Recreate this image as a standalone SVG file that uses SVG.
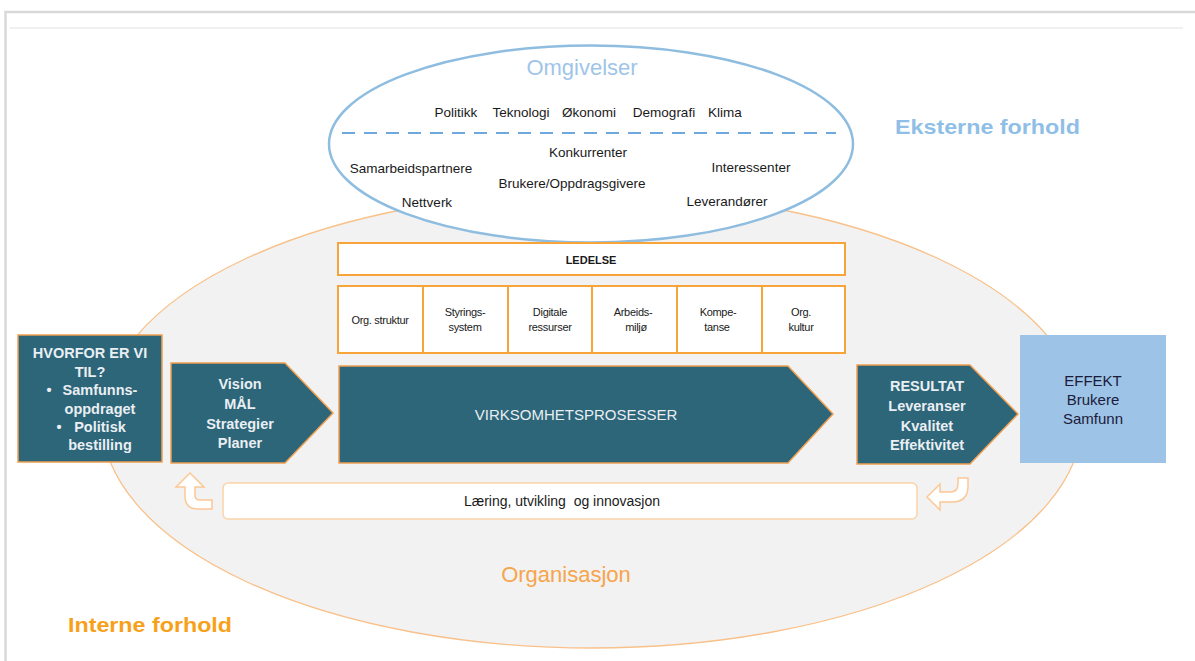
<svg xmlns="http://www.w3.org/2000/svg" width="1195" height="661" viewBox="0 0 1195 661">
<style>
text{font-family:"Liberation Sans",Arial,sans-serif}
.dk{fill:#1a1a1a;font-size:13.5px;text-anchor:middle}
.cell{fill:#fff;stroke:#f7a43a;stroke-width:2}
.ct{fill:#1a1a1a;font-size:11px;text-anchor:middle;letter-spacing:-0.3px}
.teal{fill:#2d6579;stroke:#f0a050;stroke-width:1.5}
.wt{fill:#e9eff2;font-size:14.5px;font-weight:bold;text-anchor:middle}
.loop{fill:#fff;stroke:#fbc896;stroke-width:1.5}
</style>
<rect x="0" y="0" width="1195" height="661" fill="#fff"/>
<rect x="5.5" y="12" width="1200" height="700" fill="none" stroke="#d9d9d9" stroke-width="2.5"/>
<line x1="10" y1="28" x2="1183" y2="28" stroke="#f0f0f0" stroke-width="2"/>

<g id="organisasjon">
<ellipse cx="592" cy="420" rx="490" ry="228" fill="#f2f2f2" stroke="#f9c18a" stroke-width="1.3"/>
<text x="566" y="582" font-size="22" fill="#f6a54c" text-anchor="middle">Organisasjon</text>
</g>

<g id="interne-forhold">
<text x="68" y="632" font-size="21" font-weight="bold" fill="#f7a11a" textLength="164" lengthAdjust="spacingAndGlyphs">Interne forhold</text>
</g>

<g id="eksterne-forhold">
<text x="895" y="134" font-size="21" font-weight="bold" fill="#8fbfe6" textLength="185" lengthAdjust="spacingAndGlyphs">Eksterne forhold</text>
</g>

<g id="omgivelser">
<ellipse cx="591" cy="144" rx="262" ry="98.5" fill="#fff" stroke="#8fbde0" stroke-width="2.5"/>
<text x="582" y="75" font-size="22" fill="#9fc5e8" text-anchor="middle">Omgivelser</text>
<text class="dk" x="456" y="117">Politikk</text>
<text class="dk" x="521" y="117">Teknologi</text>
<text class="dk" x="589" y="117">Økonomi</text>
<text class="dk" x="664" y="117">Demografi</text>
<text class="dk" x="725" y="117">Klima</text>
<line x1="342" y1="133" x2="836" y2="133" stroke="#6fa8dc" stroke-width="2" stroke-dasharray="13 9"/>
<text class="dk" x="588" y="157">Konkurrenter</text>
<text class="dk" x="411" y="173">Samarbeidspartnere</text>
<text class="dk" x="751" y="172">Interessenter</text>
<text class="dk" x="572" y="188">Brukere/Oppdragsgivere</text>
<text class="dk" x="427" y="207">Nettverk</text>
<text class="dk" x="727" y="206">Leverandører</text>
</g>

<g id="ledelse">
<rect class="cell" x="338" y="243" width="507" height="32"/>
<text x="591" y="264" font-size="11" font-weight="bold" fill="#1a1a1a" text-anchor="middle">LEDELSE</text>
</g>

<g id="org-struktur">
<rect class="cell" x="338" y="286" width="85" height="67"/>
<text class="ct" x="380" y="324">Org. struktur</text>
</g>
<g id="styringssystem">
<rect class="cell" x="423" y="286" width="85" height="67"/>
<text class="ct" x="465" y="316">Styrings-</text>
<text class="ct" x="465" y="331">system</text>
</g>
<g id="digitale-ressurser">
<rect class="cell" x="508" y="286" width="84" height="67"/>
<text class="ct" x="550" y="316">Digitale</text>
<text class="ct" x="550" y="331">ressurser</text>
</g>
<g id="arbeidsmiljo">
<rect class="cell" x="592" y="286" width="85" height="67"/>
<text class="ct" x="633" y="316">Arbeids-</text>
<text class="ct" x="636" y="331">miljø</text>
</g>
<g id="kompetanse">
<rect class="cell" x="677" y="286" width="85" height="67"/>
<text class="ct" x="718" y="316">Kompe-</text>
<text class="ct" x="717" y="331">tanse</text>
</g>
<g id="org-kultur">
<rect class="cell" x="762" y="286" width="83" height="67"/>
<text class="ct" x="801" y="316">Org.</text>
<text class="ct" x="801" y="331">kultur</text>
</g>

<g id="hvorfor">
<rect class="teal" x="18" y="335" width="144" height="127"/>
<text class="wt" x="90" y="358" font-size="14">HVORFOR ER VI</text>
<text class="wt" x="90" y="377">TIL?</text>
<text class="wt" x="49" y="395">•</text>
<text class="wt" x="100" y="395">Samfunns-</text>
<text class="wt" x="100" y="414">oppdraget</text>
<text class="wt" x="59" y="432">•</text>
<text class="wt" x="100" y="432">Politisk</text>
<text class="wt" x="100" y="450">bestilling</text>
</g>

<g id="vision">
<polygon class="teal" points="171,363 285,363 333,413 285,463 171,463"/>
<text class="wt" x="240" y="389">Vision</text>
<text class="wt" x="240" y="409">MÅL</text>
<text class="wt" x="240" y="429">Strategier</text>
<text class="wt" x="240" y="448">Planer</text>
</g>

<g id="virksomhetsprosesser">
<polygon class="teal" points="339,366 788,366 833,414 788,463 339,463"/>
<text x="576" y="420" font-size="15" fill="#e9eff2" text-anchor="middle">VIRKSOMHETSPROSESSER</text>
</g>

<g id="resultat">
<polygon class="teal" points="857,365 970,365 1018,414 970,464 857,464"/>
<text class="wt" x="927" y="391">RESULTAT</text>
<text class="wt" x="927" y="411">Leveranser</text>
<text class="wt" x="927" y="431">Kvalitet</text>
<text class="wt" x="927" y="450">Effektivitet</text>
</g>

<g id="effekt">
<rect x="1020" y="335" width="146" height="128" fill="#9dc3e6"/>
<text x="1093" y="386" font-size="15" fill="#1b1b3b" text-anchor="middle">EFFEKT</text>
<text x="1093" y="405" font-size="15" fill="#1b1b3b" text-anchor="middle">Brukere</text>
<text x="1093" y="424" font-size="15" fill="#1b1b3b" text-anchor="middle">Samfunn</text>
</g>

<g id="laering">
<rect x="223" y="483" width="694" height="36" rx="5" fill="#fff" stroke="#fbd3a8" stroke-width="1.5"/>
<text x="562" y="506" font-size="14" fill="#1a1a1a" text-anchor="middle" style="white-space:pre">Læring, utvikling  og innovasjon</text>
</g>

<g id="connectors">
<path class="loop" d="M190,473 L204,487 L195,487 L195,495 Q195,500 200,500 L212,500 L212,509 L198,509 Q185,509 185,496 L185,487 L176,487 Z"/>
<path class="loop" d="M927,497 L940,484 L940,492 L950,492 Q958,492 958,484 L958,478 L968,478 L968,486 Q968,502 952,502 L940,502 L940,510 Z"/>
</g>
</svg>
